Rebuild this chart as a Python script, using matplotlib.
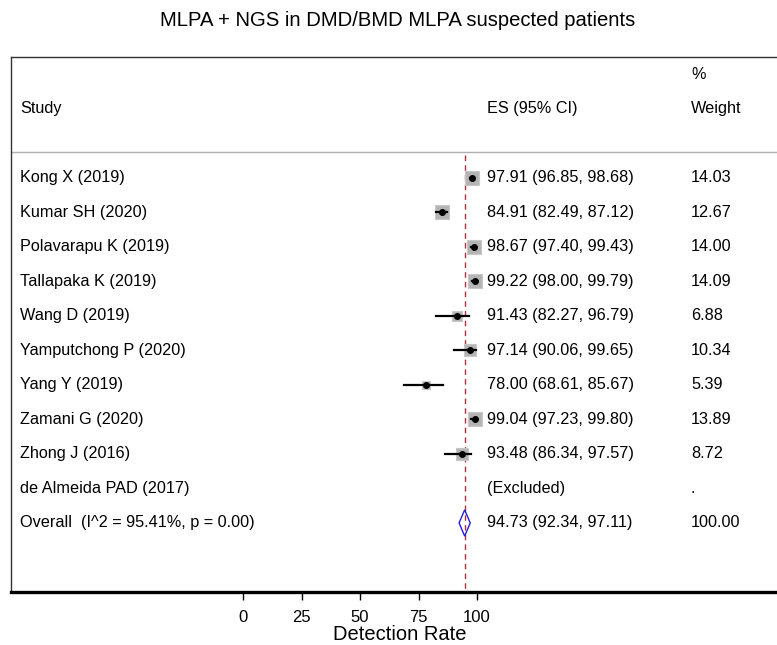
import numpy as np
import matplotlib
matplotlib.use("Agg")
import matplotlib.pyplot as plt
from matplotlib.patches import Polygon

plt.rcParams['font.family'] = ['Liberation Sans', 'DejaVu Sans']

# datos del forest plot
studies = ["Kong X (2019)", "Kumar SH (2020)", "Polavarapu K (2019)", "Tallapaka K (2019)",
           "Wang D (2019)", "Yamputchong P (2020)", "Yang Y (2019)", "Zamani G (2020)",
           "Zhong J (2016)", "de Almeida PAD (2017)"]
es = [97.91, 84.91, 98.67, 99.22, 91.43, 97.14, 78.00, 99.04, 93.48, np.nan]
ci_lo = [96.85, 82.49, 97.40, 98.00, 82.27, 90.06, 68.61, 97.23, 86.34, np.nan]
ci_hi = [98.68, 87.12, 99.43, 99.79, 96.79, 99.65, 85.67, 99.80, 97.57, np.nan]
weights = [14.03, 12.67, 14.00, 14.09, 6.88, 10.34, 5.39, 13.89, 8.72, np.nan]

overall_es = 94.73
overall_lo = 92.34
overall_hi = 97.11
overall_label = "Overall  (I^2 = 95.41%, p = 0.00)"
xticks = [0, 25, 50, 75, 100]


def px2v(px):
    # posicion horizontal en pixeles -> escala de la tasa
    return (px - 243) / 2.34


fig = plt.figure(figsize=(7.77, 6.45), dpi=100)
ax = fig.add_axes([11 / 777, 1 - 592 / 645, 1.02 - 11 / 777, (592 - 57) / 645])
ax.set_xlim(px2v(11), px2v(777 * 1.02))
ax.set_ylim(12.0, -3.5)

# marco
for side in ['left', 'top']:
    ax.spines[side].set_color('#333333')
    ax.spines[side].set_linewidth(1.0)
ax.spines['right'].set_visible(False)
ax.spines['bottom'].set_linewidth(2.4)
ax.spines['bottom'].set_color('black')
ax.set_yticks([])
ax.set_xticks(xticks)
ax.set_xticklabels([str(t) for t in xticks])
ax.tick_params(axis='x', direction='out', length=6, width=1, labelsize=12, pad=7)

# cabecera
fs = 11.7
x_study, x_es, x_w = px2v(20), px2v(487), px2v(691)
ax.axhline(-0.75, color='#b0b0b0', lw=1)
ax.text(x_study, -2.0, "Study", fontsize=fs, va='center')
ax.text(x_es, -2.0, "ES (95% CI)", fontsize=fs, va='center')
ax.text(x_w, -3.0, "%", fontsize=fs, va='center')
ax.text(x_w, -2.0, "Weight", fontsize=fs, va='center')

# linea del efecto global
ax.plot([overall_es, overall_es], [-0.65, 12.0], color='#b5303f', lw=1,
        dashes=(4, 3), zorder=1)

rows = np.arange(len(studies))
for i in rows:
    ax.text(x_study, i, studies[i], fontsize=fs, va='center')
    if np.isnan(es[i]):
        ax.text(x_es, i, "(Excluded)", fontsize=fs, va='center')
        ax.text(x_w, i, ".", fontsize=fs, va='center')
        continue
    ax.text(x_es, i, f"{es[i]:.2f} ({ci_lo[i]:.2f}, {ci_hi[i]:.2f})",
            fontsize=fs, va='center')
    ax.text(x_w, i, f"{weights[i]:.2f}", fontsize=fs, va='center')
    side_px = 14 * np.sqrt(weights[i] / 14.03)
    ax.scatter(es[i], i, marker='s', s=(side_px * 0.72) ** 2, color='#b4b4b4',
               edgecolors='#c8c8c8', linewidths=0.8, zorder=2)
    ax.plot([ci_lo[i], ci_hi[i]], [i, i], color='black', lw=1.6, zorder=3)
    ax.scatter(es[i], i, s=16, color='black', zorder=4)

# fila global
yo = len(studies)
ax.text(x_study, yo, overall_label, fontsize=fs, va='center')
ax.text(x_es, yo, f"{overall_es:.2f} ({overall_lo:.2f}, {overall_hi:.2f})",
        fontsize=fs, va='center')
ax.text(x_w, yo, "100.00", fontsize=fs, va='center')
diamond = Polygon([[overall_lo, yo], [overall_es, yo - 0.38], [overall_hi, yo],
                   [overall_es, yo + 0.38]], closed=True, fill=False,
                  edgecolor='#2020e0', lw=1, zorder=3)
ax.add_patch(diamond)

fig.text(398 / 777, 1 - 21 / 645, "MLPA + NGS in DMD/BMD MLPA suspected patients",
         fontsize=14.6, ha='center', va='center')
fig.text(400 / 777, 1 - 635 / 645, "Detection Rate", fontsize=14.5, ha='center', va='center')

fig.savefig('out.png', dpi=100)
